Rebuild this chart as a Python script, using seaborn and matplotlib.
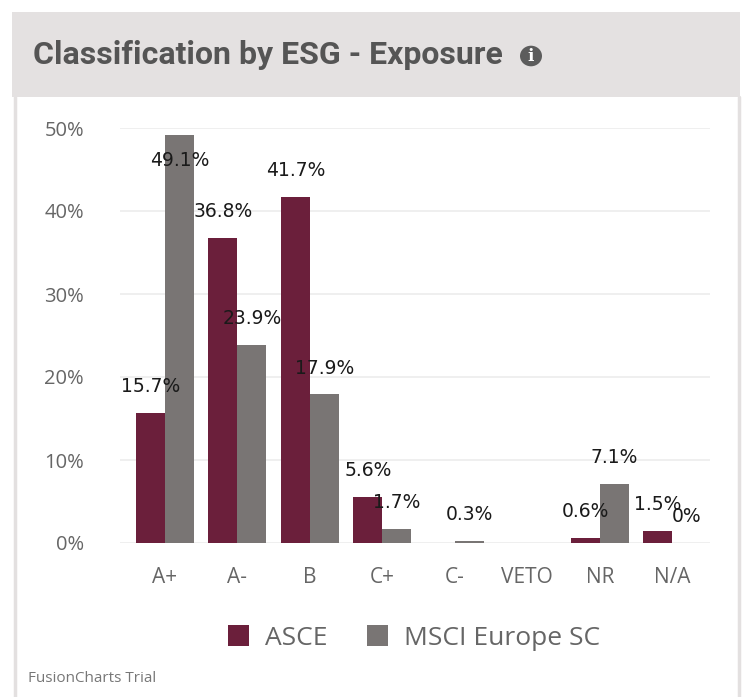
import numpy as np
import pandas as pd
import seaborn as sns
import matplotlib
matplotlib.use("Agg")
import matplotlib.pyplot as plt
from matplotlib.patches import Rectangle, Circle
from matplotlib import font_manager

# ---- data ----
categories = ["A+", "A-", "B", "C+", "C-", "VETO", "NR", "N/A"]
asce = [15.7, 36.8, 41.7, 5.6, np.nan, np.nan, 0.6, 1.5]
msci = [49.1, 23.9, 17.9, 1.7, 0.3, np.nan, 7.1, 0.0]
series_names = ["ASCE", "MSCI Europe SC"]
y_ticks = [0, 10, 20, 30, 40, 50]

colors = ["#6b1f3b", "#797574"]

df = pd.DataFrame({
    "category": categories * 2,
    "series": [series_names[0]] * len(categories) + [series_names[1]] * len(categories),
    "value": asce + msci,
})

sns.set_theme(style="white")
available = {f.name for f in font_manager.fontManager.ttflist}
body_font = "Open Sans" if "Open Sans" in available else "DejaVu Sans"
title_font = "Roboto" if "Roboto" in available else "DejaVu Sans"
plt.rcParams["font.family"] = [body_font, "DejaVu Sans"]

W, H = 744, 697
fig = plt.figure(figsize=(W / 100, H / 100), dpi=100)

def fx(px):
    return px / W

def fy(py):
    return 1 - py / H

# card frame and header
fig.patches.append(Rectangle((fx(12), fy(97)), fx(728), 85 / H, transform=fig.transFigure,
                             facecolor="#e4e1e1", edgecolor="none", zorder=0))
for xpx in (14.5, 739):
    fig.lines.append(plt.Line2D([fx(xpx), fx(xpx)], [0, fy(97)], transform=fig.transFigure,
                                color="#e3e0e0", lw=2.5, zorder=0))
fig.text(fx(33), fy(55), "Classification by ESG - Exposure", ha="left", va="center",
         fontsize=23, fontweight="bold", color="#555555", family=[title_font, "DejaVu Sans"])
fig.patches.append(Circle((fx(531), fy(56)), 11 / W, transform=fig.transFigure,
                          facecolor="#5c5c5c", edgecolor="none"))
fig.text(fx(531), fy(56.5), "i", ha="center", va="center", fontsize=12, fontweight="bold",
         color="white", family="DejaVu Serif")

ax = fig.add_axes([fx(120), fy(543), fx(710) - fx(120), (543 - 128) / H])
sns.barplot(data=df, x="category", y="value", hue="series", order=categories,
            hue_order=series_names, palette=colors, width=0.8, saturation=1,
            edgecolor="none", ax=ax)

ax.set_ylim(0, 50)
ax.set_xlim(-0.62, 7.52)
ax.set_yticks(y_ticks)
ax.set_yticklabels([f"{t}%" for t in y_ticks], fontsize=14.5, color="#666666")
ax.tick_params(axis="y", length=0, pad=26)
ax.tick_params(axis="x", length=0, pad=17, labelsize=15, labelcolor="#666666")
ax.set_xlabel("")
ax.set_ylabel("")
ax.grid(axis="y", color="#ececec", lw=1.2)
ax.set_axisbelow(True)
for s in ax.spines.values():
    s.set_visible(False)

# value labels above each bar (inside when close to the top)
for container, vals in zip(ax.containers, [asce, msci]):
    for bar in container:
        cx = bar.get_x() + bar.get_width() / 2
        v = vals[int(round(cx))]
        if np.isnan(v):
            continue
        off = -18 if v > 45 else 19
        ax.annotate(f"{v:g}%", (cx, v), xytext=(0, off), textcoords="offset points",
                    ha="center", va="center", fontsize=13.5, color="#1a1a1a",
                    family="DejaVu Sans", zorder=5, annotation_clip=False)

leg = ax.legend(loc="center", bbox_to_anchor=(fx(414), fy(638)), bbox_transform=fig.transFigure,
                ncol=2, frameon=False, fontsize=19, handlelength=0.8, handleheight=0.8,
                handletextpad=0.6, columnspacing=1.5)
for t in leg.get_texts():
    t.set_color("#666666")

fig.text(fx(28), fy(678), "FusionCharts Trial", ha="left", va="center", fontsize=11,
         color="#777777")

fig.savefig("out.png", dpi=100)
